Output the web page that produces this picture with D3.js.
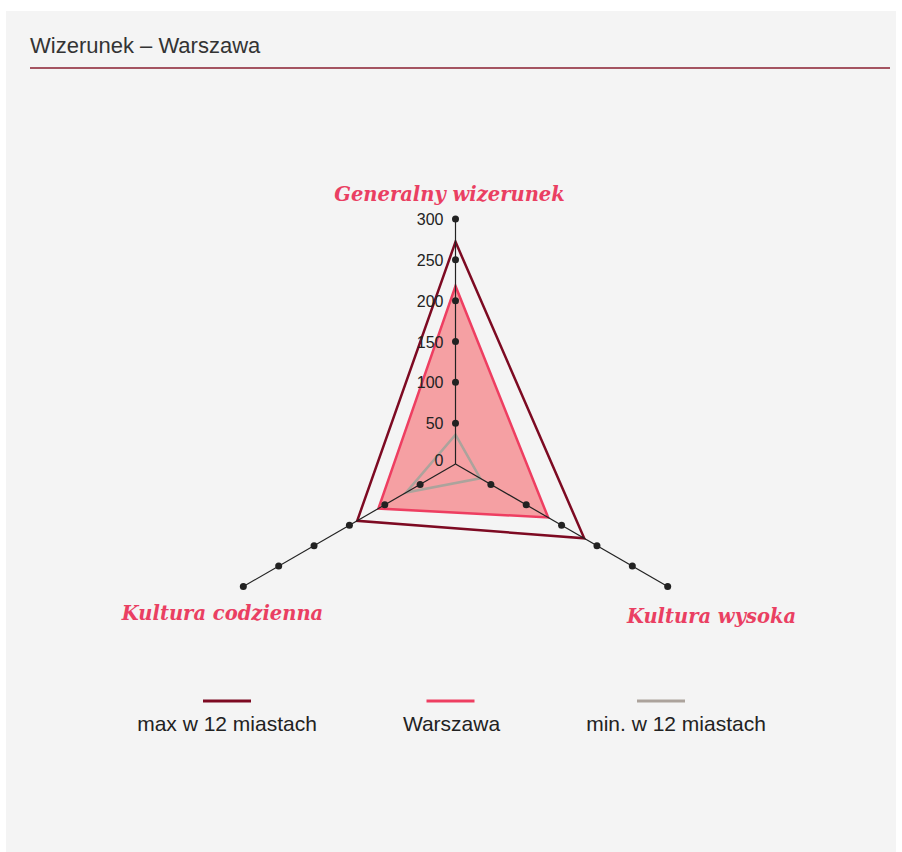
<!DOCTYPE html>
<html>
<head>
<meta charset="utf-8">
<script src="https://cdn.jsdelivr.net/npm/d3@7"></script>
<style>
  body { margin: 0; background: #fff; }
  svg { display: block; }
</style>
</head>
<body>
<svg id="chart" width="902" height="852"></svg>
<script>
'use strict';

// data
const axesNames  = [ 'Generalny wizerunek', 'Kultura wysoka', 'Kultura codzienna' ];
const maxValues  = [ 272, 182, 139 ];
const warsValues = [ 218, 131, 109 ];
const minValues  = [ 36, 35, 70 ];
const tickValues = [ 0, 50, 100, 150, 200, 250, 300 ];
const seriesNames = [ 'max w 12 miastach', 'Warszawa', 'min. w 12 miastach' ];

const colors = {
  max:   '#7d0a22',
  wars:  '#ee3e61',
  fill:  '#f5a0a3',
  min:   '#aca39c',
  label: '#ea3f62',
  text:  '#222'
};

const sans = 'Liberation Sans, Arial, sans-serif';
const svg = d3.select( '#chart' );

// panel
svg.append( 'rect' )
  .attr( 'x', 6 ).attr( 'y', 11 )
  .attr( 'width', 890 ).attr( 'height', 841 )
  .style( 'fill', '#f4f4f4' );

// title
svg.append( 'text' )
  .attr( 'x', 30 ).attr( 'y', 53 )
  .style( 'font-family', sans )
  .style( 'font-size', '22px' )
  .style( 'fill', '#333' )
  .text( 'Wizerunek – Warszawa' );

svg.append( 'line' )
  .attr( 'x1', 30 ).attr( 'x2', 890 )
  .attr( 'y1', 68 ).attr( 'y2', 68 )
  .style( 'stroke', '#8a1f30' )
  .style( 'stroke-width', 1.5 );

// radar
const cx = 455.5, cy = 464, radius = 245;
const r = d3.scaleLinear().domain( [ 0, 300 ] ).range( [ 0, radius ] );
const angle = d3.scalePoint().domain( axesNames ).range( [ 0, 2 * Math.PI * 2 / 3 ] );

const g = svg.append( 'g' ).attr( 'transform', `translate(${cx},${cy})` );

const pt = ( name, v ) => {
  const a = angle( name );
  return [ Math.sin( a ) * r( v ), -Math.cos( a ) * r( v ) ];
};

const line = d3.line().curve( d3.curveLinearClosed );
const poly = ( vals ) => line( axesNames.map( ( n, i ) => pt( n, vals[i] ) ) );

// series
g.append( 'path' )
  .attr( 'd', poly( warsValues ) )
  .style( 'fill', colors.fill )
  .style( 'stroke', colors.wars )
  .style( 'stroke-width', 2.5 );

g.append( 'path' )
  .attr( 'd', poly( minValues ) )
  .style( 'fill', 'none' )
  .style( 'stroke', colors.min )
  .style( 'stroke-width', 2.5 );

g.append( 'path' )
  .attr( 'd', poly( maxValues ) )
  .style( 'fill', 'none' )
  .style( 'stroke', colors.max )
  .style( 'stroke-width', 2.5 );

// axes
g.selectAll( '.axis' )
  .data( axesNames )
  .enter().append( 'line' )
    .attr( 'class', 'axis' )
    .attr( 'x1', 0 ).attr( 'y1', 0 )
    .attr( 'x2', (d) => pt( d, 300 )[0] )
    .attr( 'y2', (d) => pt( d, 300 )[1] )
    .style( 'stroke', '#222' )
    .style( 'stroke-width', 1.2 );

// tick dots
const dots = [];
axesNames.forEach( ( n ) => tickValues.slice( 1 ).forEach( ( t ) => dots.push( pt( n, t ) ) ) );
g.selectAll( '.dot' )
  .data( dots )
  .enter().append( 'circle' )
    .attr( 'class', 'dot' )
    .attr( 'cx', (d) => d[0] )
    .attr( 'cy', (d) => d[1] )
    .attr( 'r', 3.5 )
    .style( 'fill', '#222' );

// tick labels
g.selectAll( '.tick' )
  .data( tickValues )
  .enter().append( 'text' )
    .attr( 'class', 'tick' )
    .attr( 'x', -12 )
    .attr( 'y', (d) => -r( d ) + 6 - ( d === 0 ? 4 : 0 ) )
    .style( 'text-anchor', 'end' )
    .style( 'font-family', sans )
    .style( 'font-size', '16px' )
    .style( 'fill', colors.text )
    .text( (d) => d );

// axis names
const labelPos = [ [ -6, -263 ], [ 256, 159 ], [ -233, 156 ] ];
g.selectAll( '.axis-name' )
  .data( axesNames )
  .enter().append( 'text' )
    .attr( 'class', 'axis-name' )
    .attr( 'x', (d, i) => labelPos[i][0] )
    .attr( 'y', (d, i) => labelPos[i][1] )
    .style( 'text-anchor', 'middle' )
    .style( 'font-family', 'DejaVu Serif, serif' )
    .style( 'font-weight', 'bold' )
    .style( 'font-style', 'italic' )
    .style( 'font-size', '19.5px' )
    .style( 'fill', colors.label )
    .text( (d) => d );

// legend
const legendColors = [ colors.max, colors.wars, colors.min ];
const swatchX = [ 0, -1, -15 ];
const legendX = d3.scalePoint().domain( seriesNames ).range( [ 227, 676 ] );
const lg = svg.append( 'g' ).selectAll( '.legend' )
  .data( seriesNames )
  .enter().append( 'g' )
    .attr( 'class', 'legend' )
    .attr( 'transform', (d) => `translate(${legendX( d )},0)` );

lg.append( 'line' )
  .attr( 'x1', (d, i) => swatchX[i] - 24 )
  .attr( 'x2', (d, i) => swatchX[i] + 24 )
  .attr( 'y1', 701 ).attr( 'y2', 701 )
  .style( 'stroke', (d, i) => legendColors[i] )
  .style( 'stroke-width', 3 );

lg.append( 'text' )
  .attr( 'y', 731 )
  .style( 'text-anchor', 'middle' )
  .style( 'font-family', sans )
  .style( 'font-size', '21px' )
  .style( 'fill', colors.text )
  .text( (d) => d );
</script>
</body>
</html>
